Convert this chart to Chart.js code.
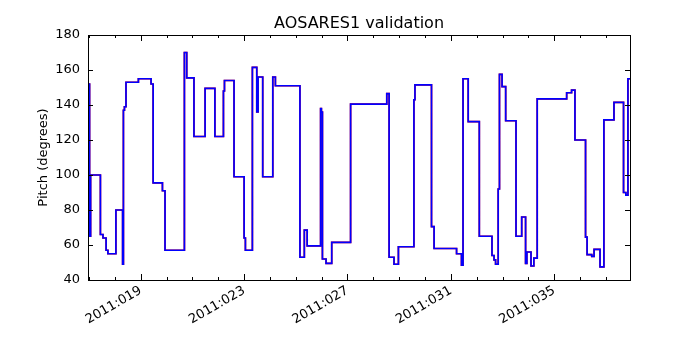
<!DOCTYPE html>
<html>
<head>
<meta charset="utf-8">
<script src="https://cdn.jsdelivr.net/npm/chart.js@4/dist/chart.umd.min.js"></script>
<style>
  body { margin: 0; background: #fff; }
</style>
</head>
<body>
<canvas id="chart" width="700" height="350"></canvas>
<script>
// time of each step (day of year 2011) and the pitch held from that time on
const stepDays = [
  16.98, 17.02, 17.06, 17.44, 17.54, 17.66, 17.73, 18.04, 18.30, 18.33,
  18.37, 18.43, 18.91, 19.40, 19.48, 19.84, 19.94, 20.69, 20.78, 21.06,
  21.49, 21.87, 22.20, 22.24, 22.61, 23.00, 23.05, 23.32, 23.49, 23.54,
  23.72, 24.11, 24.21, 25.16, 25.33, 25.44, 25.96, 25.99, 26.03, 26.17,
  26.39, 27.12, 28.52, 28.61, 28.80, 28.97, 29.57, 29.61, 30.25, 30.35,
  31.22, 31.41, 31.47, 31.67, 32.10, 32.59, 32.67, 32.73, 32.83, 32.88,
  32.98, 33.12, 33.52, 33.74, 33.89, 33.94, 34.10, 34.21, 34.34, 35.48,
  35.67, 35.80, 36.21, 36.27, 36.45, 36.54, 36.77, 36.92, 37.31, 37.68,
  37.77, 37.85, 37.93
];
const bluePitch = [
  152, 65, 100, 66, 64, 57, 55, 80, 49, 137,
  139, 153, 155, 152, 95.5, 91, 57, 170, 155.5, 122,
  149.5, 122, 148, 154, 99, 64, 57, 161.5, 136, 156,
  99, 156, 151, 53, 68.5, 59.5, 138, 136, 52, 49.5,
  61.5, 140.5, 146.5, 53, 49, 59, 143, 151.5, 70.5, 58,
  55, 48.5, 155, 130.5, 65, 54, 51.5, 49, 92, 157.5,
  150.5, 131, 65, 76, 49.5, 56, 48, 52.5, 143.5, 147,
  148.5, 120, 64.5, 54.5, 53.5, 57.5, 47.5, 131.5, 141.5, 90,
  88.5, 155, 155
];
const redPitch = [
  152, 65, 100, 66, 64, 57, 55, 80, 49, 137,
  139, 153, 155, 152, 95.5, 91, 57, 170, 155.5, 122,
  149.5, 122, 148, 154, 99, 64, 57, 161.5, 136, 156,
  99, 156, 151, 53, 68.5, 59.5, 138, 136, 52, 49.5,
  61.5, 140.5, 146.5, 53, 49, 59, 143, 151.5, 70.5, 58,
  55, 48.5, 155, 130.5, 65, 54, 51.5, 49, 92, 157.5,
  150.5, 131, 65, 76, 49.5, 56, 48, 52.5, 143.5, 147,
  148.5, 120, 64.5, 54.5, 53.5, 57.5, 47.5, 131.5, 141.5, 90,
  88.5, 155, 155
];
const xTickDays = [19, 23, 27, 31, 35];
const xTickLabels = ['2011:019', '2011:023', '2011:027', '2011:031', '2011:035'];
const yTicks = [40, 60, 80, 100, 120, 140, 160, 180];

const FONT = 'DejaVu Sans';

// matplotlib style frame: box on all sides, ticks pointing inward
const frameTicks = {
  id: 'frameTicks',
  afterDatasetsDraw(chart) {
    const { ctx, chartArea: a, scales } = chart;
    ctx.save();
    ctx.strokeStyle = '#000';
    ctx.lineWidth = 1;
    for (let d = 17; d <= 37; d++) {
      const x = Math.round(scales.x.getPixelForValue(d)) + 0.5;
      const len = xTickDays.includes(d) ? 6 : 3;
      ctx.beginPath();
      ctx.moveTo(x, a.bottom); ctx.lineTo(x, a.bottom - len);
      ctx.moveTo(x, a.top); ctx.lineTo(x, a.top + len);
      ctx.stroke();
    }
    yTicks.forEach(v => {
      const y = Math.round(scales.y.getPixelForValue(v)) + 0.5;
      ctx.beginPath();
      ctx.moveTo(a.left, y); ctx.lineTo(a.left + 5, y);
      ctx.moveTo(a.right, y); ctx.lineTo(a.right - 5, y);
      ctx.stroke();
    });
    ctx.strokeRect(Math.round(a.left) + 0.5, Math.round(a.top) + 0.5,
      Math.round(a.right - a.left), Math.round(a.bottom - a.top));

    ctx.fillStyle = '#000';
    ctx.font = '16px "' + FONT + '"';
    ctx.textAlign = 'center';
    ctx.textBaseline = 'alphabetic';
    ctx.fillText('AOSARES1 validation', (a.left + a.right) / 2, 28);

    ctx.font = '13px "' + FONT + '"';
    ctx.translate(47, (a.top + a.bottom) / 2);
    ctx.rotate(-Math.PI / 2);
    ctx.fillText('Pitch (degrees)', 0, 0);
    ctx.restore();
  }
};

const mk = vals => stepDays.map((d, i) => ({ x: d, y: vals[i] }));

new Chart(document.getElementById('chart'), {
  type: 'line',
  data: {
    datasets: [
      // first dataset is painted last, so blue sits on top of red
      { label: 'blue', data: mk(bluePitch), borderColor: '#0000ff', borderWidth: 1.7,
        stepped: 'before', pointRadius: 0, fill: false },
      { label: 'red', data: mk(redPitch), borderColor: '#ff0000', borderWidth: 1.7,
        stepped: 'before', pointRadius: 0, fill: false }
    ]
  },
  options: {
    responsive: false,
    animation: false,
    layout: { padding: { top: 35, right: 70, left: 0, bottom: 0 } },
    plugins: { legend: { display: false }, tooltip: { enabled: false } },
    scales: {
      x: {
        type: 'linear',
        min: 16.96,
        max: 37.93,
        grid: { display: false, drawTicks: false, tickLength: 0 },
        border: { display: false },
        afterBuildTicks: s => { s.ticks = xTickDays.map(v => ({ value: v })); },
        afterFit: s => { s.height = 70; },
        ticks: {
          autoSkip: false,
          minRotation: 30,
          maxRotation: 30,
          padding: 3,
          color: '#000',
          font: { family: FONT, size: 13 },
          callback: v => xTickLabels[xTickDays.indexOf(v)]
        }
      },
      y: {
        min: 40,
        max: 180,
        grid: { display: false, drawTicks: false, tickLength: 0 },
        border: { display: false },
        afterBuildTicks: s => { s.ticks = yTicks.map(v => ({ value: v })); },
        afterFit: s => { s.width = 88; },
        ticks: {
          padding: 8,
          color: '#000',
          font: { family: FONT, size: 13 }
        }
      }
    }
  },
  plugins: [frameTicks]
});
</script>
</body>
</html>
